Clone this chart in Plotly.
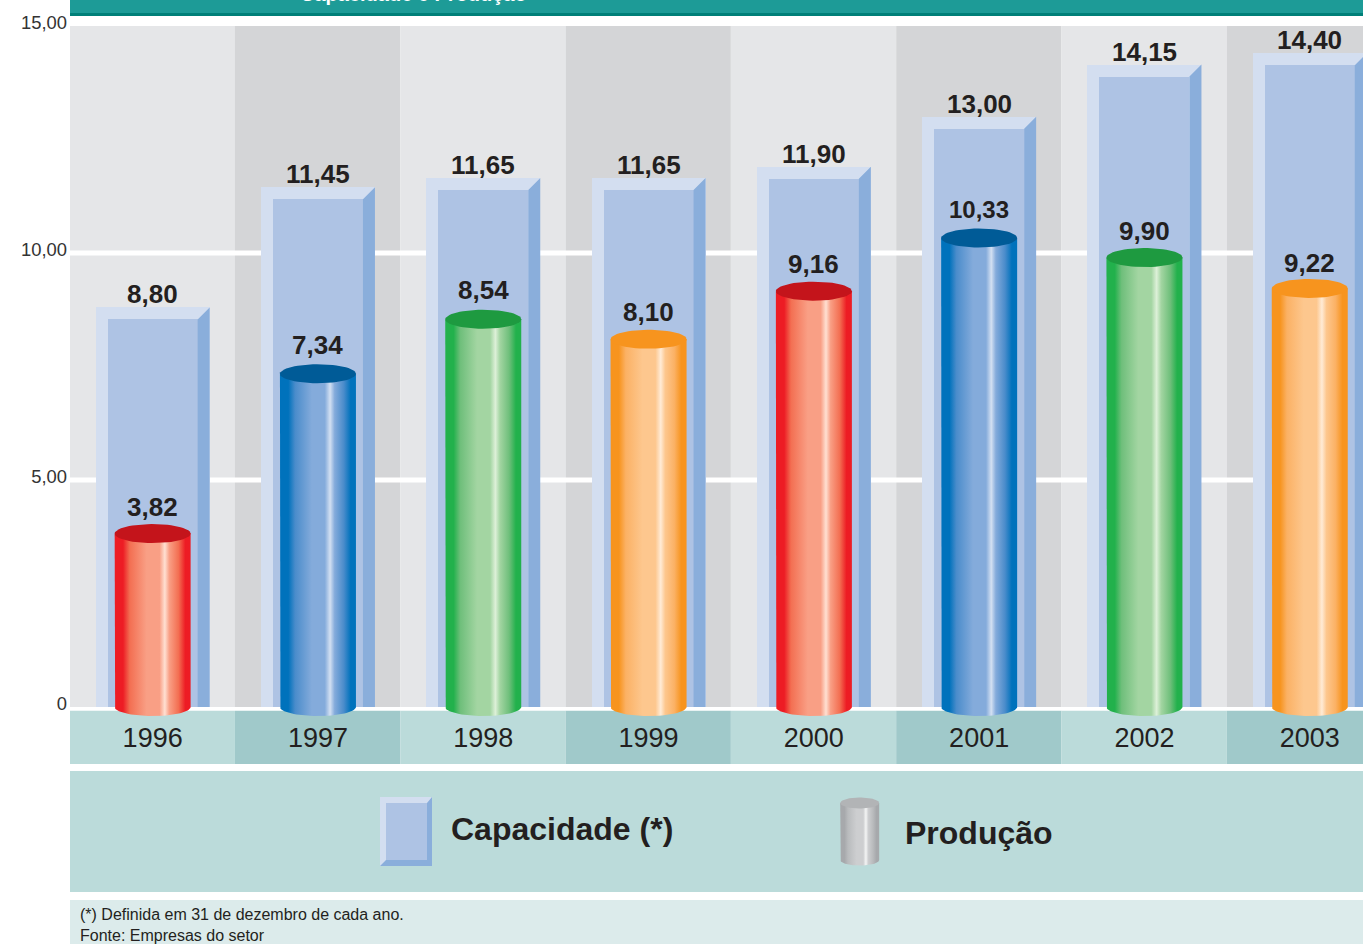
import numpy as np
import plotly.graph_objects as go

# ---- data
years = ["1996", "1997", "1998", "1999", "2000", "2001", "2002", "2003"]
capacidade = [8.80, 11.45, 11.65, 11.65, 11.90, 13.00, 14.15, 14.40]
producao = [3.82, 7.34, 8.54, 8.10, 9.16, 10.33, 9.90, 9.22]
y_ticks = [0, 5, 10, 15]
y_tick_labels = ["0", "5,00", "10,00", "15,00"]
grid_values = [5, 10]

# ---- page geometry (pixels)
W, H = 1363, 944
LEFT = 70
BAND = 165.3
ZERO = 707
PPU = 45.4
producao_label_lift = [27, 29, 29, 27, 27, 29, 27, 25]


def X(p):
    return (p - LEFT) / BAND - 0.5


def Y(p):
    return (ZERO - p) / PPU


def dx(p):
    return p / BAND


def dy(p):
    return p / PPU


def br(v):
    return f"{v:.2f}".replace(".", ",")


FONT = "Liberation Sans"
INK = "#231F20"
LIGHT, MID, DARK = "#D3DEF0", "#AEC3E4", "#8AAEDB"


def ramp(edge, shade, mid, hi):
    return [[0, edge], [0.11, edge], [0.2, shade], [0.42, mid], [0.59, mid], [0.66, hi],
            [0.72, mid], [0.84, shade], [0.93, edge], [1, edge]]


RED = (ramp("#ED1C24", "#F36F52", "#F99F85", "#FFE0D2"), "#C4141B")
BLUE = (ramp("#0072BC", "#4A8CCB", "#84ABDB", "#D3E0F2"), "#005B97")
GREEN = (ramp("#22B14C", "#6FBF7B", "#A3D5A2", "#DDF0D8"), "#1E9A40")
ORANGE = (ramp("#F7941E", "#FBB164", "#FDC78E", "#FFEBD6"), "#F7941E")
GREY = (ramp("#A7A9AC", "#B9BBBD", "#CDCED0", "#F4F5F5"), "#B2B4B6")
palette = [RED, BLUE, GREEN, ORANGE, RED, BLUE, GREEN, ORANGE]

fig = go.Figure()


def rect(x0, x1, y0, y1, color):
    """Rectangle given in page pixels, under the axes' gridlines."""
    return dict(type="rect", xref="x", yref="y", x0=X(x0), x1=X(x1), y0=Y(y0), y1=Y(y1),
                fillcolor=color, line_width=0, layer="below")


shapes = [
    rect(LEFT, W + 40, 0, 13, "#1D9B97"),
    rect(LEFT, W + 40, 13, 16, "#007F78"),
    rect(LEFT, W + 40, 771, 892, "#BBDBDA"),
    rect(LEFT, W + 40, 900, 950, "#DCEBEB"),
]
NUDGE = dx(0.33)
for i in range(len(years)):
    shapes.append(dict(type="rect", xref="x", yref="y", x0=i - 0.5 - NUDGE, x1=i + 0.5 - NUDGE, y0=0, y1=15,
                       fillcolor="#D4D5D7" if i % 2 else "#E5E6E8", line_width=0, layer="below"))
    shapes.append(dict(type="rect", xref="x", yref="y", x0=i - 0.5 - NUDGE, x1=i + 0.5 - NUDGE, y0=Y(710.7), y1=Y(764),
                       fillcolor="#A0C9CA" if i % 2 else "#BBDBDA", line_width=0, layer="below"))
for g in grid_values:
    shapes.append(dict(type="line", xref="x", yref="y", x0=-0.5, x1=X(W + 40), y0=g, y1=g,
                       line=dict(color="#FFFFFF", width=5), layer="below"))

idx = list(range(len(years)))

# capacity boxes: light outer face, inner face, darker right bevel
fig.add_trace(go.Bar(x=idx, y=capacidade, width=dx(114), name="Capacidade (*)", marker=dict(color=LIGHT, line_width=0),
                     hoverinfo="skip", showlegend=False))
fig.add_trace(go.Bar(x=idx, y=[c - dy(12) for c in capacidade], width=dx(90), marker=dict(color=MID, line_width=0),
                     hoverinfo="skip", showlegend=False))
bx, by = [], []
for i, c in zip(idx, capacidade):
    bx += [i + dx(45), i + dx(57), i + dx(57), i + dx(45), i + dx(45), None]
    by += [0, 0, c, c - dy(12), 0, None]
fig.add_trace(go.Scatter(x=bx, y=by, mode="lines", fill="toself", fillcolor=DARK, line_width=0,
                         hoverinfo="skip", showlegend=False))


def cylinder(xc, ytop, ybot, rx, ry_top, ry_bot, style, name=None):
    """xc, ytop, ybot in data units; rx and ry in data units."""
    scale, cap = style
    t = np.linspace(np.pi, 2 * np.pi, 40)
    xs = [xc - rx] + list(xc + rx * np.cos(t)) + [xc + rx, xc - rx]
    ys = [ytop] + list(ybot + ry_bot * np.sin(t)) + [ytop, ytop]
    fig.add_trace(go.Scatter(x=xs, y=ys, mode="lines", fill="toself", line_width=0, name=name,
                             fillgradient=dict(type="horizontal", colorscale=scale),
                             hoverinfo="skip", showlegend=False))
    a = np.linspace(0, 2 * np.pi, 60)
    fig.add_trace(go.Scatter(x=xc + rx * np.cos(a), y=ytop + ry_top * np.sin(a), mode="lines", fill="toself",
                             fillcolor=cap, line_width=0, hoverinfo="skip", showlegend=False))


for i, p, style in zip(idx, producao, palette):
    cylinder(i, p, 0, dx(38), dy(9.5), dy(9), style, "Produção")

# legend swatches
lx0, lx1, ly0, ly1 = 380, 432, 797, 866
ix0, ix1, iy0, iy1 = 386, 427, 803, 860
for pts, col in [
    ([(lx0, ly0), (lx1, ly0), (lx1, ly1), (lx0, ly1)], LIGHT),
    ([(ix1, iy0), (lx1, ly0), (lx1, ly1), (lx0, ly1), (ix0, iy1), (ix1, iy1)], DARK),
    ([(ix0, iy0), (ix1, iy0), (ix1, iy1), (ix0, iy1)], MID),
]:
    fig.add_trace(go.Scatter(x=[X(a) for a, _ in pts] + [X(pts[0][0])], y=[Y(b) for _, b in pts] + [Y(pts[0][1])],
                             mode="lines", fill="toself", fillcolor=col, line_width=0,
                             hoverinfo="skip", showlegend=False))
cylinder(X(859.7), Y(803), Y(860), dx(19.5), dy(5.5), dy(5.5), GREY, "Produção")

# annotations
ann = []
for i, c in zip(idx, capacidade):
    ann.append(dict(x=i, y=c, text=f"<b>{br(c)}</b>", yshift=13, showarrow=False, yanchor="middle",
                    font=dict(family=FONT, size=26, color=INK)))
for i, p, lift in zip(idx, producao, producao_label_lift):
    ann.append(dict(x=i, y=p, text=f"<b>{br(p)}</b>", yshift=lift, showarrow=False, yanchor="middle",
                    font=dict(family=FONT, size=24 if p >= 10 else 26, color=INK)))


def note(px, py, text, size, color=INK, anchor="middle"):
    ann.append(dict(x=X(px), y=Y(py), text=text, showarrow=False, xanchor="left", yanchor=anchor,
                    font=dict(family=FONT, size=size, color=color), align="left"))


note(448.5, 829, "<b>Capacidade (*)</b>", 32)
note(902.5, 833, "<b>Produção</b>", 32)
note(78, 914, "(*) Definida em 31 de dezembro de cada ano.", 16)
note(78, 935, "Fonte: Empresas do setor", 16)
note(298, 7, "<b>Capacidade e Produção</b>", 20, "#FFFFFF", "bottom")

fig.update_layout(
    width=W, height=H, autosize=False,
    margin=dict(l=LEFT, r=0, t=0, b=0, pad=0),
    paper_bgcolor="#FFFFFF", plot_bgcolor="#FFFFFF",
    barmode="overlay", bargap=0, showlegend=False,
    shapes=shapes, annotations=ann,
    xaxis=dict(
        range=[-0.5, X(W)], tickmode="array", tickvals=idx, ticktext=years,
        showgrid=False, zeroline=False, showline=False, ticks="",
        anchor="free", position=(H - 711) / H, ticklabelstandoff=8,
        tickfont=dict(family=FONT, size=27, color=INK), automargin=False,
    ),
    yaxis=dict(
        range=[Y(H), Y(0)], tickmode="array", tickvals=y_ticks, ticktext=y_tick_labels,
        showgrid=False, zeroline=False, showline=False, ticks="",
        ticklabelshift=-3, ticklabelstandoff=2,
        tickfont=dict(family=FONT, size=18.4, color="#333333"), automargin=False,
    ),
)

fig.write_html("out.html", config={"displayModeBar": False},
               post_script="document.body.style.margin='0';document.documentElement.style.overflow='hidden';")
